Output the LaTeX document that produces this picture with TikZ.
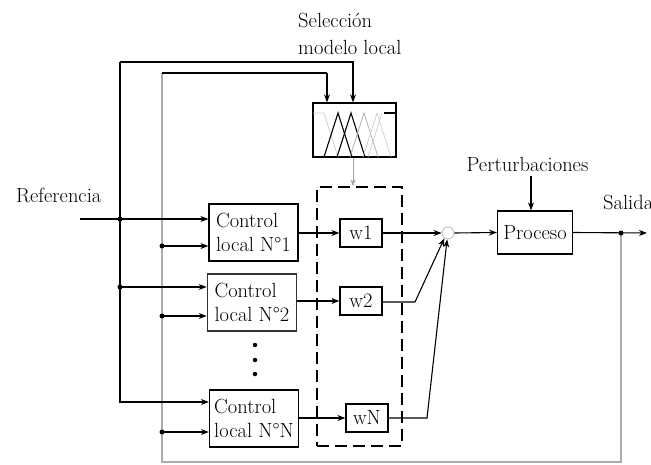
\documentclass[tikz,border=0pt]{standalone}
\usetikzlibrary{arrows.meta,calc}
\begin{document}
\begin{tikzpicture}[x=1pt,y=-1pt,
  txt/.style={font=\fontsize{20.5}{25}\selectfont, inner sep=0pt},
  cbox/.style={draw, line width=1.2pt, minimum width=89pt, minimum height=57pt, inner sep=2pt, align=left, font=\fontsize{20.5}{24.5}\selectfont},
  wbox/.style={draw, line width=1.2pt, minimum width=42pt, minimum height=28pt, inner sep=0pt, font=\fontsize{20.5}{25}\selectfont},
  ln/.style={line width=1.1pt},
  arr/.style={line width=1.1pt, -{Stealth[length=8pt,width=6pt]}},
  garr/.style={line width=0.6pt, draw=gray!70, -{Stealth[length=7pt,width=5pt,fill=gray!70]}},
  gline/.style={line width=1.8pt, draw=gray!65},
  jdot/.style={circle, fill, inner sep=0pt, minimum size=5pt},
  edot/.style={circle, fill, inner sep=0pt, minimum size=4.5pt}
]
\useasboundingbox (0,0) rectangle (651,465);

% texts
\node[txt, anchor=north west, align=left, font=\fontsize{20.5}{27}\selectfont] (sel) at (298,12.5) {Selección\\modelo local};
\node[txt, anchor=base west] (reftxt) at (16,203) {Referencia};
\node[txt, anchor=base] (pert) at (527.5,172) {Perturbaciones};
\node[txt, anchor=base west] (sal) at (603,210) {Salida};

% blocks
\node[cbox] (c1) at (253.5,232.5) {Control\\local N°1};
\node[cbox, line width=1.7pt, draw=black!80] (c2) at (252,302.5) {Control\\local N°2};
\node[cbox] (cN) at (254,418.5) {Control\\local N°N};
\node[wbox] (w1) at (361,233) {w1};
\node[wbox] (w2) at (361,301) {w2};
\node[wbox] (wN) at (367,418) {wN};
\node[draw, line width=1.3pt, minimum width=83pt, minimum height=54pt, inner sep=0pt] (fz) at (354.5,130) {};
\node[draw, dashed, dash pattern=on 12pt off 6pt, line width=1.2pt, minimum width=85pt, minimum height=259pt, inner sep=0pt] (db) at (359.5,316.5) {};
\node[circle, draw=gray!55, line width=0.8pt, minimum size=12pt, inner sep=0pt] (sum) at (448,233) {};
\node[draw, line width=1.2pt, minimum width=75pt, minimum height=43pt, inner sep=0pt, font=\fontsize{20.5}{25}\selectfont] (proc) at (535,232.5) {Proceso};

% membership functions
\draw[gray!40, line width=0.7pt] (313,113) -- (324,113) -- (338,157);
\draw[black, line width=1.1pt] (324,157) -- (338,113) -- (352,157);
\draw[black, line width=1.1pt] (337,157) -- (351,113) -- (365,157);
\draw[gray!60, line width=0.8pt] (350,157) -- (364,113) -- (378,157);
\draw[gray!40, line width=0.7pt] (363,157) -- (377,113) -- (391,157);
\draw[gray!40, line width=0.7pt] (368,157) -- (382,113);
\draw[black, line width=1.1pt] (384,113) -- (396,113);

% vertical dots
\node[edot] (d1) at (255,345) {};
\node[edot] (d2) at (255,360) {};
\node[edot] (d3) at (255,374) {};

% coordinates
\coordinate (ref) at (80,219);
\coordinate (kT) at (120,62);
\coordinate (kB) at (120,402);
\coordinate (j1) at (120,219);
\coordinate (j2) at (120,287);
\coordinate (gT) at (162,73);
\coordinate (gB) at (162,462);
\coordinate (g1) at (162,246);
\coordinate (g2) at (162,316);
\coordinate (gN) at (162,432);
\coordinate (xb) at (353,0);
\coordinate (xg) at (327,0);
\coordinate (xp) at (531,0);
\coordinate (so) at (621,233);
\coordinate (out) at (647,233);
\coordinate (fb) at (621,462);
\coordinate (b2) at (415,302);
\coordinate (bN) at (427,418);

% feedback (gray)
\draw[gline] (so) -- (fb) -- (gB) -- (gT);
\draw[ln] (gT) -- (gT -| xg);
\draw[arr] (gT -| xg) -- (xg |- fz.north);

% black selection line
\draw[arr] (kT) -- (kB) -- (kB -| cN.west);
\draw[arr] (kT) -- (kT -| xb) -- (xb |- fz.north);

% reference inputs
\draw[arr] (ref) -- (ref -| c1.west);
\draw[arr] (j2) -- (j2 -| c2.west);
\node[jdot] at (j1) {};
\node[jdot] at (j2) {};

% gray inputs
\draw[arr] (g1) -- (g1 -| c1.west);
\draw[arr] (g2) -- (g2 -| c2.west);
\draw[arr] (gN) -- (gN -| cN.west);
\node[jdot] at (g1) {};
\node[jdot] at (g2) {};
\node[jdot] at (gN) {};

% fuzzy to weights
\draw[garr] (fz.south -| xb) -- (db.north -| xb);

% controls to weights
\draw[arr] (c1.east |- w1.west) -- (w1.west);
\draw[arr] (c2.east |- w2.west) -- (w2.west);
\draw[arr] (cN.east |- wN.west) -- (wN.west);

% weights to sum
\draw[arr] (w1.east) -- (sum.west);
\draw[arr] (w2.east |- b2) -- (b2) -- (sum.235);
\draw[arr] (wN.east) -- (bN) -- (sum.262);

% sum to process, output
\draw[arr] (sum.east) -- (proc.west);
\draw[arr] (pert.south -| xp) ++(0,4) -- (proc.north -| xp);
\draw[arr] (proc.east) -- (out);
\node[jdot] at (so) {};
\end{tikzpicture}
\end{document}
